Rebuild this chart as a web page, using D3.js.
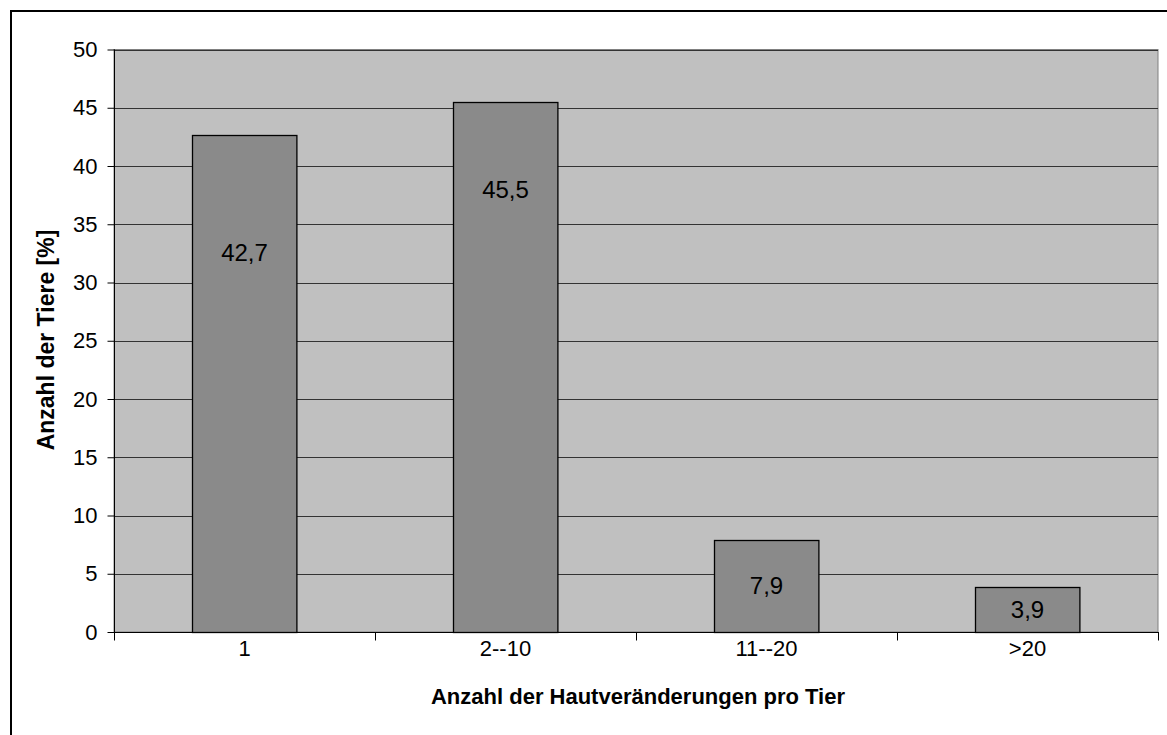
<!DOCTYPE html>
<html><head><meta charset="utf-8">
<script src="https://cdn.jsdelivr.net/npm/d3@7"></script>
<style>body{margin:0;background:#fff}svg{display:block}text{font-family:"Liberation Sans",Arial,sans-serif}</style>
</head><body>
<svg id="c" width="1167" height="735"></svg>
<script>
const categories = ["1", "2--10", "11--20", ">20"];
const values = [42.7, 45.5, 7.9, 3.9];
const labels = ["42,7", "45,5", "7,9", "3,9"];
const labelAt = [32.6, 38.0, 3.95, 1.95];
const yTicks = [0, 5, 10, 15, 20, 25, 30, 35, 40, 45, 50];
const xTitle = "Anzahl der Hautveränderungen pro Tier";
const yTitle = "Anzahl der Tiere [%]";

const svg = d3.select("#c");
const L = 114, R = 1158, T = 49.5, B = 632;
svg.append("rect").attr("x", 11).attr("y", 11).attr("width", 1170).attr("height", 740)
  .attr("fill", "none").attr("stroke", "#000").attr("stroke-width", 2);

const x = d3.scaleBand().domain(categories).range([L, R]).paddingInner(0.6).paddingOuter(0.3);
const xb = d3.scaleBand().domain(categories).range([L, R]);
const y = d3.scaleLinear().domain([0, 50]).range([B, T]);

svg.append("rect").attr("x", L).attr("y", T).attr("width", R - L).attr("height", B - T)
  .attr("fill", "#c0c0c0").attr("stroke", "#808080").attr("stroke-width", 1);

svg.append("g").selectAll("line").data(yTicks.filter(d => d > 0)).join("line")
  .attr("x1", L).attr("x2", R).attr("y1", d => Math.round(y(d)) + 0.5).attr("y2", d => Math.round(y(d)) + 0.5)
  .attr("stroke", "#333").attr("stroke-width", 1);

svg.append("g").selectAll("rect").data(values).join("rect")
  .attr("x", (d, i) => Math.round(x(categories[i])) + 0.5)
  .attr("width", x.bandwidth())
  .attr("y", d => Math.round(y(d)) + 0.5)
  .attr("height", d => Math.round(B) - Math.round(y(d)))
  .attr("fill", "#8a8a8a").attr("stroke", "#000").attr("stroke-width", 1.3);

svg.append("g").selectAll("text").data(labels).join("text")
  .attr("x", (d, i) => x(categories[i]) + x.bandwidth() / 2)
  .attr("y", (d, i) => y(labelAt[i]))
  .attr("dy", "0.35em").attr("text-anchor", "middle")
  .attr("font-size", 24).text(d => d);

// y axis
const ya = d3.axisLeft(y).tickValues(yTicks).tickSize(7).tickPadding(10).tickFormat(d3.format("d"));
const gy = svg.append("g").attr("transform", `translate(${L + 0.5},0)`).call(ya);
gy.select(".domain").attr("d", `M0,${T}V${B}`);
gy.selectAll(".tick line").attr("stroke", "#000");
gy.selectAll("text").attr("font-size", 22).attr("font-family", "Liberation Sans, Arial, sans-serif").attr("fill", "#000");

// x axis
const gx = svg.append("g").attr("transform", `translate(0,${B + 0.5})`);
gx.append("line").attr("x1", L).attr("x2", R + 1).attr("stroke", "#000");
gx.selectAll("line.t").data(categories.concat(["end"])).join("line").attr("class", "t")
  .attr("x1", (d, i) => Math.round(L + i * xb.bandwidth()) + 0.5)
  .attr("x2", (d, i) => Math.round(L + i * xb.bandwidth()) + 0.5)
  .attr("y1", 0).attr("y2", 8).attr("stroke", "#000");
gx.selectAll("text").data(categories).join("text")
  .attr("x", d => xb(d) + xb.bandwidth() / 2).attr("y", 16).attr("dy", "0.35em")
  .attr("text-anchor", "middle").attr("font-size", 22).text(d => d);

svg.append("text").attr("x", 638).attr("y", 696).attr("dy", "0.35em")
  .attr("text-anchor", "middle").attr("font-size", 22).attr("font-weight", "bold").text(xTitle);
svg.append("text").attr("transform", `translate(46,340) rotate(-90)`).attr("dy", "0.35em")
  .attr("text-anchor", "middle").attr("font-size", 23).attr("font-weight", "bold").text(yTitle);
</script>
</body></html>
